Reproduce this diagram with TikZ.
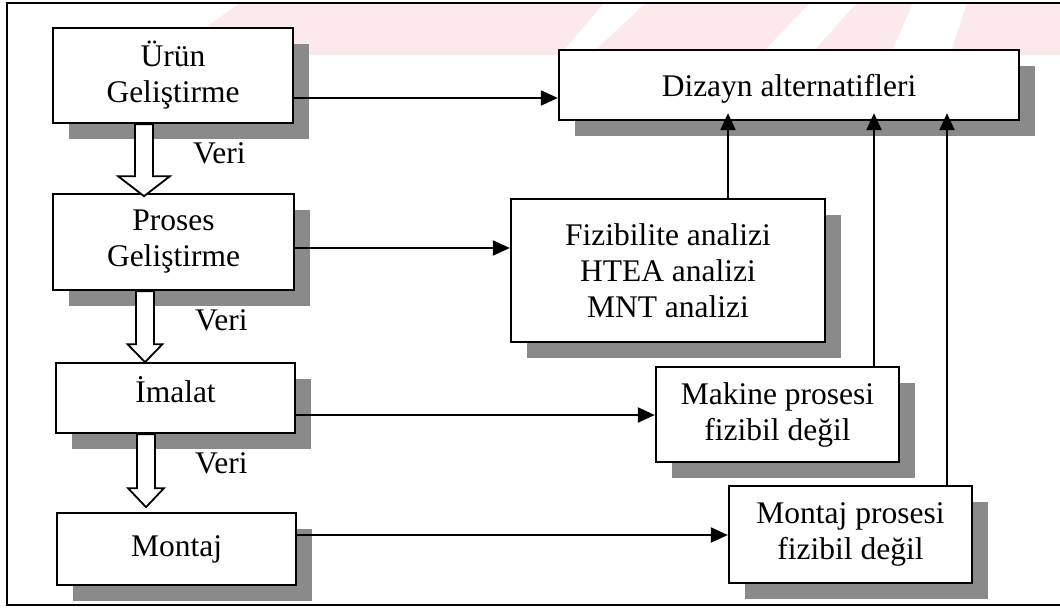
\documentclass[tikz,border=0pt]{standalone}
\usepackage{fontspec}
\setmainfont{Liberation Serif}
\usetikzlibrary{arrows.meta,shadows}
\definecolor{wmpink}{RGB}{252,233,236}
\definecolor{shade}{RGB}{138,138,138}
\begin{document}
\begin{tikzpicture}[x=1pt,y=-1pt,
  txt/.style={font=\fontsize{31.5}{36}\selectfont},
  box/.style={txt,draw=black,line width=2.3pt,fill=white,inner sep=0pt,align=center,
    drop shadow={shadow xshift=16pt,shadow yshift=-16pt,fill=shade,opacity=1}},
  conn/.style={line width=2.1pt,-{Triangle[length=17pt,width=15pt]}},
  hollow/.style={draw=black,line width=1.8pt,fill=white,line join=miter},
  lbl/.style={txt,inner sep=0pt,anchor=base west}]
\useasboundingbox (0,0) rectangle (1060,608);

% faint stripes along the top edge
\fill[wmpink] (240,3) -- (604,3) -- (560,55) -- (167,55) -- cycle;
\fill[wmpink] (646,3) -- (810,3) -- (760,55) -- (590,55) -- cycle;
\fill[wmpink] (857,3) -- (913,3) -- (890,55) -- (810,55) -- cycle;
\fill[wmpink] (967,3) -- (1060,3) -- (1060,55) -- (950,55) -- cycle;

% outer frame
\draw[line width=2.2pt] (1062,3) -- (7,3) -- (7,605) -- (1062,605);

% left column
\node[box,minimum width=240pt,minimum height=95pt] (urun) at (173,75.5) {Ürün\\Geliştirme};
\node[box,minimum width=241pt,minimum height=96pt] (proses) at (173.5,242) {Proses\\Geliştirme};
\node[box,minimum width=239pt,minimum height=70pt,text height=22pt,text depth=14pt] (imalat) at (175.5,398) {İmalat};
\node[box,minimum width=239pt,minimum height=72pt] (montaj) at (176.5,549) {Montaj};

% right column
\node[box,minimum width=460pt,minimum height=70pt,text depth=0pt] (dizayn) at (789,85) {Dizayn alternatifleri};
\node[box,minimum width=314pt,minimum height=143pt] (fiz) at (668,270.5) {Fizibilite analizi\\HTEA analizi\\MNT analizi};
\node[box,minimum width=243pt,minimum height=95pt] (makine) at (777.5,414.5) {Makine prosesi\\fizibil değil};
\node[box,minimum width=243pt,minimum height=97pt] (montajp) at (850.5,534.5) {Montaj prosesi\\fizibil değil};

% horizontal connectors
\coordinate (u1) at ([yshift=-22.5pt]urun.east);
\coordinate (p1) at ([yshift=-6pt]proses.east);
\coordinate (i1) at ([yshift=-17pt]imalat.east);
\coordinate (m1) at ([yshift=14pt]montaj.east);
\draw[conn] (u1) -- (u1 -| dizayn.west);
\draw[conn] (p1) -- (p1 -| fiz.west);
\draw[conn] (i1) -- (i1 -| makine.west);
\draw[conn] (m1) -- (m1 -| montajp.west);

% vertical connectors into the design box
\coordinate (f1) at ([xshift=60pt]fiz.north);
\coordinate (k1) at ([xshift=96.5pt]makine.north);
\coordinate (q1) at ([xshift=96.5pt]montajp.north);
\draw[conn,shorten >=-8pt] (f1) -- (f1 |- dizayn.south);
\draw[conn,shorten >=-8pt] (k1) -- (k1 |- dizayn.south);
\draw[conn,shorten >=-8pt] (q1) -- (q1 |- dizayn.south);

% hollow data arrows
\draw[hollow] ([xshift=-38pt]urun.south) -- ++(0,52) -- ++(-17,0) -- ++(26,20)
  -- ++(26,-20) -- ++(-17,0) -- ++(0,-52) -- cycle;
\draw[hollow] ([xshift=-37.5pt]proses.south) -- ++(0,53) -- ++(-8.5,0) -- ++(17.5,18)
  -- ++(17.5,-18) -- ++(-8.5,0) -- ++(0,-53) -- cycle;
\draw[hollow] ([xshift=-38.5pt]imalat.south) -- ++(0,54) -- ++(-9,0) -- ++(18,19)
  -- ++(18,-19) -- ++(-9,0) -- ++(0,-54) -- cycle;

\node[lbl] (v1) at (193,163) {Veri};
\node[lbl] (v2) at (195,330) {Veri};
\node[lbl] (v3) at (195,473) {Veri};
\end{tikzpicture}
\end{document}
